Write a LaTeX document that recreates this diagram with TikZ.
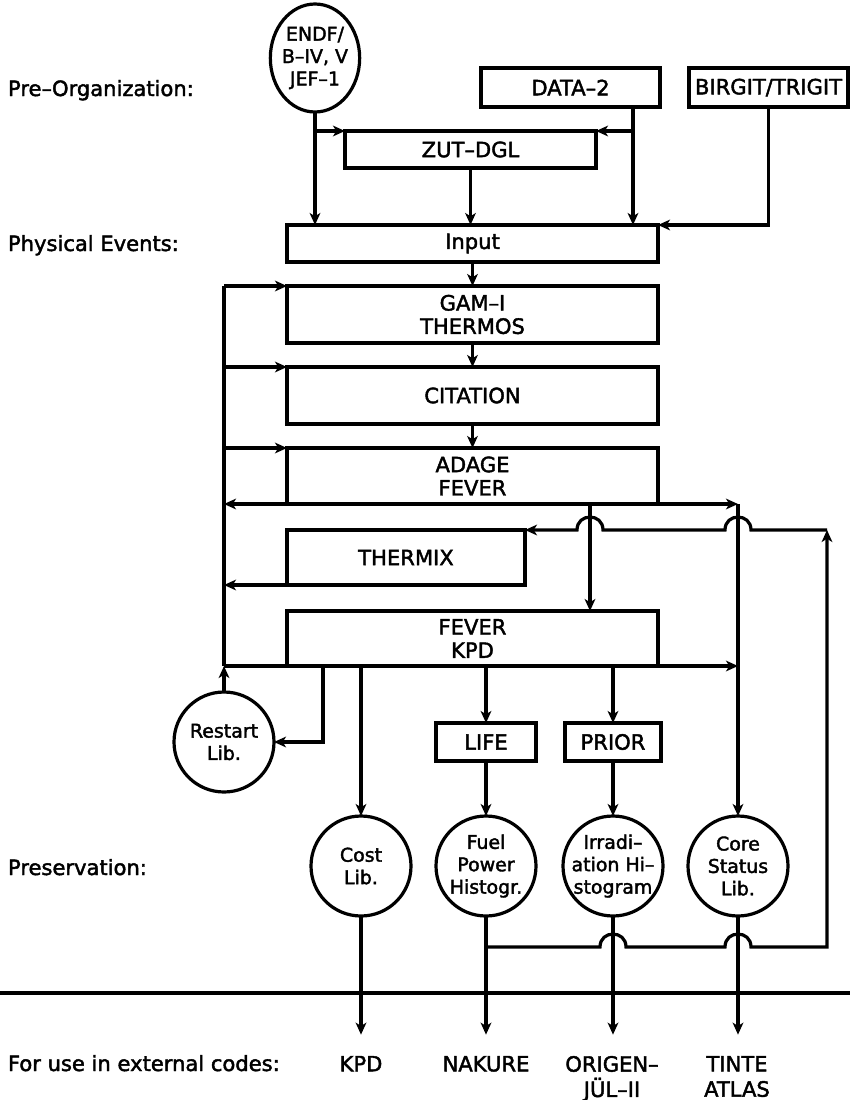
\documentclass[tikz,border=0pt]{standalone}
\usepackage{fontspec}
\setmainfont{DejaVu Sans}
\newfontfamily\plotfont[Ligatures=TeX, BoldFont=DejaVu Sans, BoldFeatures={FakeBold=2}]{DejaVu Sans}
\usetikzlibrary{arrows.meta,shapes.geometric,calc}
\begin{document}
\begin{tikzpicture}[x=0.75pt,y=-0.75pt,
  every node/.style={font=\plotfont\bfseries\fontsize{15.8}{17.5}\selectfont, inner sep=0pt, outer sep=0pt},
  ln/.style={line width=2.4pt},
  tip/.tip={Stealth[length=9pt,width=8pt,inset=2.5pt]},
  arr/.style={ln,-tip},
  arrboth/.style={ln,tip-tip},
  bx/.style={draw, line width=2.4pt, rectangle, align=center},
  circ/.style={draw, line width=2.4pt, ellipse, align=center, inner xsep=-14pt, inner ysep=-10pt,
    minimum width=75pt, minimum height=75pt, font=\plotfont\bfseries\fontsize{14.2}{16.8}\selectfont},
  lbl/.style={anchor=base west},
  outlbl/.style={anchor=north, align=center, font=\plotfont\bfseries\fontsize{15.8}{19}\selectfont}
]
\useasboundingbox (0,0) rectangle (850,1100);

% side labels
\node[lbl] (lpre) at (8,96) {Pre–Organization:};
\node[lbl] (lphys) at (8,251) {Physical Events:};
\node[lbl] (lpres) at (8,875) {Preservation:};
\node[lbl] (lext) at (8,1071) {For use in external codes:};

% nodes
\node[circ, minimum width=67pt, minimum height=81pt] (endf) at (315,58) {ENDF/\\B–IV, V\\JEF–1};
\node[bx, minimum width=134.25pt, minimum height=29.25pt] (data2) at (570.5,87.5) {DATA–2};
\node[bx, minimum width=119.25pt, minimum height=29.25pt] (birgit) at (768.5,87.5) {BIRGIT/TRIGIT};
\node[bx, minimum width=188.25pt, minimum height=27.75pt] (zut) at (470.5,149.5) {ZUT–DGL};
\node[bx, minimum width=278.25pt, minimum height=27.75pt] (input) at (472.5,243.5) {Input};
\node[bx, minimum width=278.25pt, minimum height=42.75pt] (gam) at (472.5,314.5) {GAM–I\\THERMOS};
\node[bx, minimum width=278.25pt, minimum height=42.75pt] (citation) at (472.5,395.5) {CITATION};
\node[bx, minimum width=278.25pt, minimum height=42pt] (adage) at (472.5,476) {ADAGE\\FEVER};
\node[bx, minimum width=178.5pt, minimum height=41.25pt] (thermix) at (406,557.5) {THERMIX};
\node[bx, minimum width=278.25pt, minimum height=41.25pt] (fever) at (472.5,638.5) {FEVER\\KPD};
\node[circ] (restart) at (224,742) {Restart\\Lib.};
\node[bx, minimum width=75pt, minimum height=28.5pt] (life) at (486,742) {LIFE};
\node[bx, minimum width=72pt, minimum height=28.5pt] (prior) at (613,742) {PRIOR};
\node[circ] (cost) at (361,866) {Cost\\Lib.};
\node[circ] (fuel) at (486,866) {Fuel\\Power\\Histogr.};
\node[circ] (irr) at (613,866) {Irradi–\\ation Hi–\\stogram};
\node[circ] (core) at (738,866) {Core\\Status\\Lib.};

% output labels
\node[outlbl] (kpdout) at (361,1056) {KPD};
\node[outlbl] (nakure) at (486,1056) {NAKURE};
\node[outlbl] (origen) at (612,1056) {ORIGEN–\\JÜL–II};
\node[outlbl] (tinte) at (737,1056) {TINTE\\ATLAS};

% helper coordinates
\coordinate (d2x) at (633,0);
\coordinate (L) at (224,0);
\coordinate (M) at (590,0);
\coordinate (R) at (827,0);
\coordinate (S) at (323,0);
\coordinate (hb) at (0,947);
\coordinate (sepL) at (0,993);
\coordinate (sepR) at (850,993);

% pre-organization connectors
\draw[arr] (endf.south) -- (endf.south |- input.north);
\draw[arr] (endf.south |- zut.north) -- (zut.north west);
\draw[arr] (data2.south -| d2x) -- (d2x |- input.north);
\draw[arr] (zut.north -| d2x) -- (zut.north east);
\draw[arr] (zut.south) -- (zut.south |- input.north);
\draw[arr] (birgit.south) |- (input.north east);

% main chain
\draw[arr] (input.south) -- (input.south |- gam.north);
\draw[arr] (gam.south) -- (gam.south |- citation.north);
\draw[arr] (citation.south) -- (citation.south |- adage.north);

% left feedback
\draw[ln] (gam.north west -| L) -- (fever.south west -| L);
\draw[arr] (gam.north west -| L) -- (gam.north west);
\draw[arr] (citation.north west -| L) -- (citation.north west);
\draw[arr] (adage.north west -| L) -- (adage.north west);
\draw[arr] (thermix.south west) -- (thermix.south west -| L);

% ADAGE bottom distribution line
\draw[arrboth] (adage.south west -| L) -- (adage.south -| core.north);
\draw[arr] (adage.south -| core.north) -- (core.north);
\draw[arr] (adage.south -| M) -- (fever.north -| M);

% FEVER bottom distribution line
\draw[arr] (fever.south west -| L) -- (fever.south -| core.north);
\draw[arr] (restart.north) -- (restart.north |- fever.south);
\draw[arr] (fever.south -| S) |- (restart.east);
\draw[arr] (fever.south -| cost.north) -- (cost.north);
\draw[arr] (fever.south -| life.north) -- (life.north);
\draw[arr] (fever.south -| prior.north) -- (prior.north);
\draw[arr] (life.south) -- (fuel.north);
\draw[arr] (prior.south) -- (irr.north);

% feedback from fuel power histogram to THERMIX (with line hops)
\draw[arr] (fuel.south |- hb) -- (600,947) .. controls (600,929.7) and (626,929.7) .. (626,947)
  -- (725,947) .. controls (725,929.7) and (751,929.7) .. (751,947) -- (R |- hb) -- (R |- thermix.north east);
\draw[arr] (R |- thermix.north east) -- (751,530) .. controls (751,512.7) and (725,512.7) .. (725,530)
  -- (603,530) .. controls (603,512.7) and (577,512.7) .. (577,530) -- (thermix.north east);

% separator
\draw[line width=2.9pt] (sepL) -- (sepR);

% to external codes
\draw[arr, shorten >=16pt] (cost.south) -- (cost.south |- kpdout.north);
\draw[arr, shorten >=16pt] (fuel.south) -- (fuel.south |- nakure.north);
\draw[arr, shorten >=16pt] (irr.south) -- (irr.south |- origen.north);
\draw[arr, shorten >=16pt] (core.south) -- (core.south |- tinte.north);
\end{tikzpicture}
\end{document}
